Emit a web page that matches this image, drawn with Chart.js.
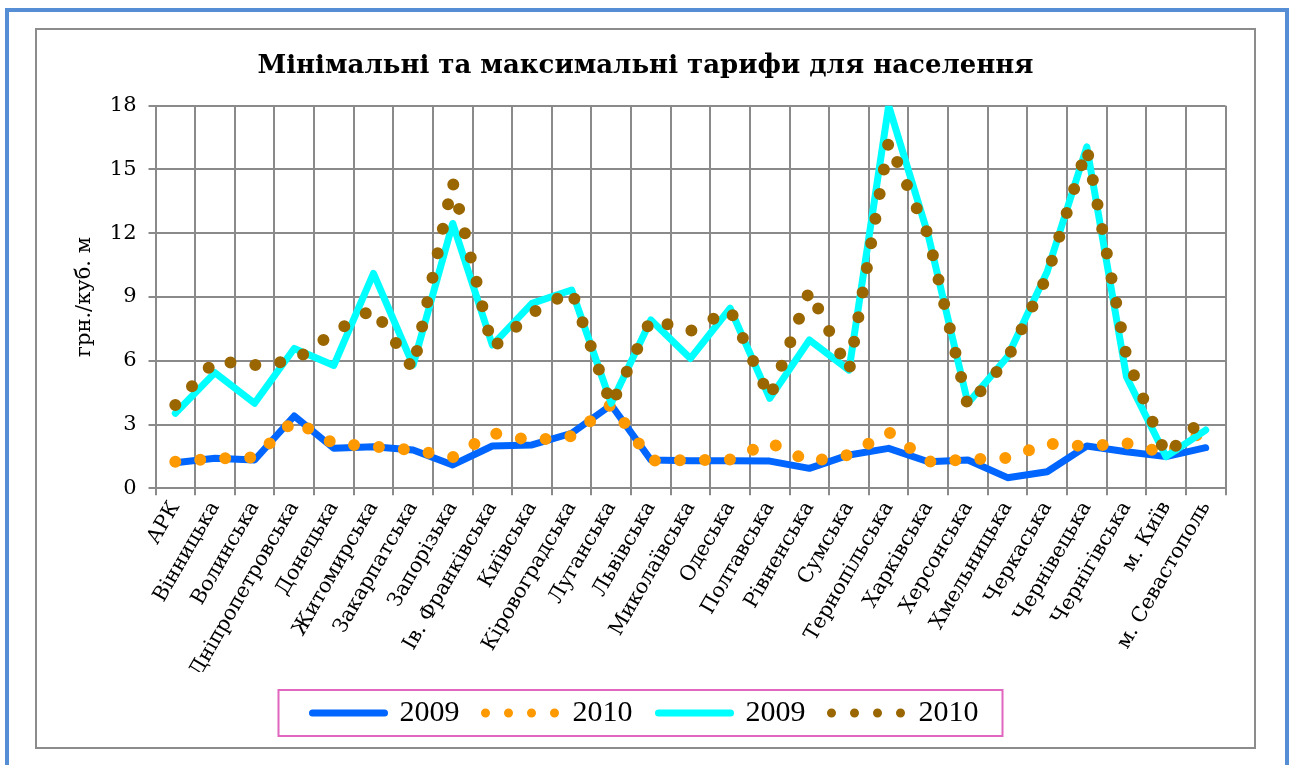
<!DOCTYPE html>
<html>
<head>
<meta charset="utf-8">
<script src="https://cdn.jsdelivr.net/npm/chart.js@4.4.0/dist/chart.umd.min.js"></script>
<style>
  html, body { margin: 0; padding: 0; background: #fff; }
  body { width: 1296px; height: 765px; position: relative; overflow: hidden; }
  .outer { position: absolute; left: 5px; top: 8px; width: 1276px; height: 800px; border: 4px solid #558ed5; }
  .inner { position: absolute; left: 35px; top: 28px; width: 1217px; height: 717px; border: 2px solid #8c8c8c; }
  #chart { position: absolute; left: 0; top: 0; }
</style>
</head>
<body>
<div class="outer"></div>
<div class="inner"></div>
<canvas id="chart" width="1296" height="765"></canvas>
<script>
const regions = ['АРК', 'Вінницька', 'Волинська', 'Дніпропетровська', 'Донецька', 'Житомирська',
  'Закарпатська', 'Запорізька', 'Ів. Франківська', 'Київська', 'Кіровоградська', 'Луганська',
  'Львівська', 'Миколаївська', 'Одеська', 'Полтавська', 'Рівненська', 'Сумська', 'Тернопільська',
  'Харківська', 'Херсонська', 'Хмельницька', 'Черкаська', 'Чернівецька', 'Чернігівська',
  'м. Київ', 'м. Севастополь'];

// мінімальні тарифи
const min2009 = [1.2, 1.41, 1.33, 3.4, 1.88, 1.96, 1.8, 1.1, 1.99, 2.04, 2.59, 3.92, 1.33, 1.3,
  1.3, 1.28, 0.94, 1.57, 1.88, 1.25, 1.33, 0.5, 0.78, 1.99, 1.72, 1.49, 1.91];
const min2010 = [1.25, 1.4, 1.45, 3.2, 2.1, 1.97, 1.8, 1.46, 2.6, 2.25, 2.45, 3.95, 1.3, 1.32,
  1.35, 2.15, 1.25, 1.57, 2.65, 1.25, 1.35, 1.43, 2.1, 1.98, 2.12, 1.65, 2.75];

// максимальні тарифи
const max2009 = [3.53, 5.44, 4.0, 6.58, 5.78, 10.11, 5.8, 12.46, 6.74, 8.7, 9.33, 4.0, 7.92, 6.11,
  8.47, 4.23, 6.98, 5.56, 18.0, 11.9, 4.0, 6.19, 10.19, 16.07, 5.25, 1.49, 2.74];
const max2010 = [3.92, 6.0, 5.8, 6.0, 7.33, 8.45, 5.6, 14.4, 6.6, 8.25, 9.3, 3.9, 7.95, 7.4,
  8.4, 4.25, 9.3, 5.5, 16.3, 11.9, 3.85, 6.1, 10.0, 16.0, 6.2, 1.55, 3.4];

const seriesLabels = ['2009', '2010', '2009', '2010'];
const yMin = 0, yMax = 18, yStep = 3;

const gridColor = '#8a8a8a';

// рамка навколо легенди
const legendFrame = {
  id: 'legendFrame',
  afterDraw(chart) {
    const boxes = chart.legend.legendHitBoxes;
    if (!boxes || !boxes.length) return;
    const ctx = chart.ctx;
    const left = Math.min(...boxes.map(b => b.left)) - 34;
    const right = Math.max(...boxes.map(b => b.left + b.width)) + 24;
    const mid = boxes[0].top + boxes[0].height / 2;
    ctx.save();
    ctx.strokeStyle = '#e066c0';
    ctx.lineWidth = 2;
    ctx.strokeRect(left, mid - 23, right - left, 46);
    ctx.restore();
  }
};

const dotted = (color) => ({
  borderColor: color,
  backgroundColor: color,
  borderWidth: 12,
  borderDash: [0, 25],
  borderCapStyle: 'round',
  borderJoinStyle: 'round',
  pointRadius: 0,
  tension: 0
});
const solid = (color) => ({
  borderColor: color,
  backgroundColor: color,
  borderWidth: 7,
  borderCapStyle: 'round',
  borderJoinStyle: 'round',
  pointRadius: 0,
  tension: 0
});

new Chart(document.getElementById('chart'), {
  type: 'line',
  data: {
    labels: regions,
    datasets: [
      { label: seriesLabels[0], data: min2009, order: 4, ...solid('#0066ff') },
      { label: seriesLabels[1], data: min2010, order: 3, ...dotted('#ff9900') },
      { label: seriesLabels[2], data: max2009, order: 2, ...solid('#00ffff') },
      { label: seriesLabels[3], data: max2010, order: 1, ...dotted('#996600') }
    ]
  },
  options: {
    responsive: false,
    animation: false,
    devicePixelRatio: 1,
    layout: { padding: { left: 36, top: 30, right: 41, bottom: 43 } },
    scales: {
      x: {
        offset: true,
        grid: { offset: true, color: gridColor, lineWidth: 2, tickLength: 7 },
        border: { color: gridColor, width: 2 },
        ticks: {
          autoSkip: false, minRotation: 60, maxRotation: 60, padding: 2, color: '#000',
          font: { family: 'DejaVu Serif', size: 20.5 }
        },
        afterFit: (s) => { s.height = 183.7; }
      },
      y: {
        min: yMin, max: yMax,
        grid: { color: gridColor, lineWidth: 2, tickLength: 7 },
        border: { color: gridColor, width: 2 },
        ticks: { stepSize: yStep, padding: 12, color: '#000', font: { family: 'DejaVu Serif', size: 21 } },
        title: {
          display: true, text: 'грн./куб. м', color: '#000',
          font: { family: 'DejaVu Serif', size: 21 }, padding: { top: 36, bottom: 0 }
        },
        afterFit: (s) => { s.width = 119.5; }
      },
      yRight: {
        position: 'right', display: true,
        grid: { display: false, drawTicks: false },
        border: { display: false },
        ticks: { display: false },
        afterFit: (s) => { s.width = 29.5; }
      }
    },
    plugins: {
      title: {
        display: true,
        text: 'Мінімальні та максимальні тарифи для населення',
        color: '#000',
        font: { family: 'DejaVu Serif', size: 26, weight: 'bold', lineHeight: 1.2 },
        padding: { top: 20.4, bottom: 24.1 }
      },
      legend: {
        position: 'bottom',
        maxHeight: 50,
        labels: {
          usePointStyle: true,
          pointStyleWidth: 72,
          padding: 26,
          color: '#000',
          font: { family: 'Liberation Serif', size: 30 },
          generateLabels: (chart) => chart.data.datasets.map((ds, i) => ({
            text: ds.label,
            fillStyle: ds.borderColor,
            strokeStyle: ds.borderColor,
            fontColor: '#000',
            lineWidth: ds.borderDash ? 9 : 7,
            lineDash: ds.borderDash ? [0, 23] : [],
            lineCap: 'round',
            pointStyle: 'line',
            hidden: false,
            datasetIndex: i
          }))
        }
      },
      tooltip: { enabled: false }
    }
  },
  plugins: [legendFrame]
});
</script>
</body>
</html>
